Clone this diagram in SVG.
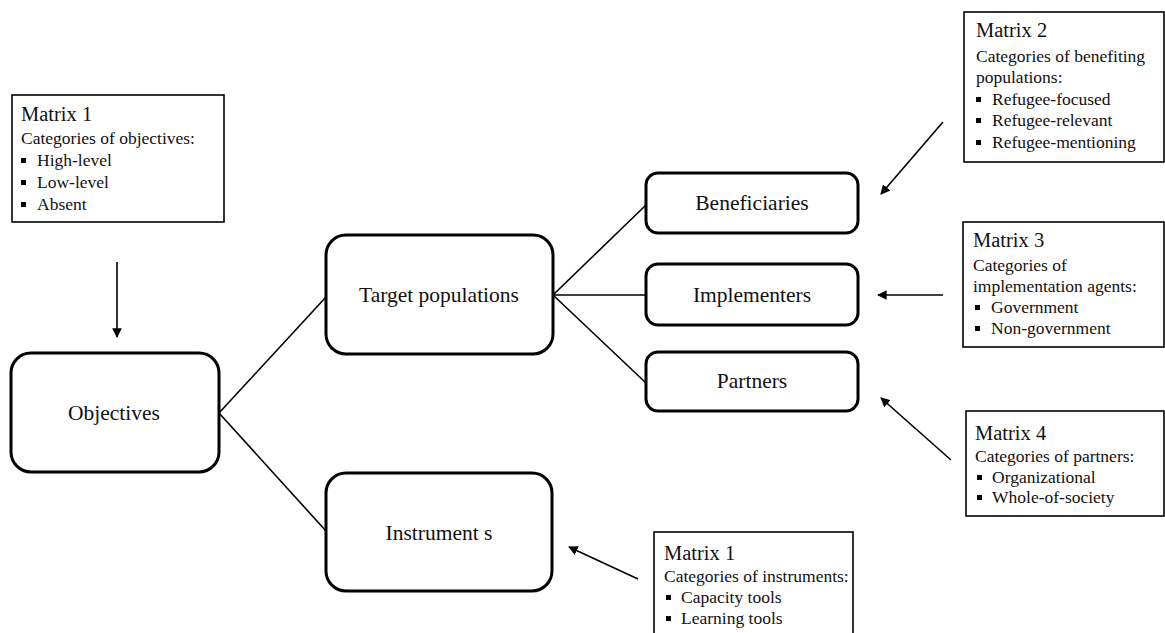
<svg xmlns="http://www.w3.org/2000/svg" width="1165" height="633" viewBox="0 0 1165 633">
<style>
.node{fill:#fff;stroke:#000;stroke-width:3}
.mbox{fill:#fff;stroke:#000;stroke-width:1.6}
.lbl{font-family:"Liberation Serif","Times New Roman",serif;font-size:21.5px;fill:#111;text-anchor:middle}
.ttl{font-family:"Liberation Serif","Times New Roman",serif;font-size:20.5px;fill:#111}
.txt{font-family:"Liberation Serif","Times New Roman",serif;font-size:17.5px;fill:#111}
.bul{fill:#000}
.con{stroke:#000;stroke-width:1.6;fill:none}
.arr{stroke:#000;stroke-width:1.6;fill:none;marker-end:url(#ah)}
</style>
<defs>
<marker id="ah" viewBox="0 0 10 10" refX="9" refY="5" markerWidth="6" markerHeight="6" orient="auto" markerUnits="strokeWidth">
<path d="M0,0 L10,5 L0,10 z" fill="#000"/>
</marker>
</defs>
<rect width="1165" height="633" fill="#fff"/>
<g id="connectors">
<line class="con" x1="219" y1="413" x2="326" y2="297"/>
<line class="con" x1="219" y1="413" x2="326" y2="531"/>
<line class="con" x1="553" y1="295" x2="646" y2="205"/>
<line class="con" x1="553" y1="295" x2="646" y2="295"/>
<line class="con" x1="553" y1="295" x2="646" y2="383"/>
<line class="arr" x1="117" y1="262" x2="117" y2="337"/>
<line class="arr" x1="943" y1="122" x2="881" y2="194"/>
<line class="arr" x1="943" y1="295" x2="878" y2="295"/>
<line class="arr" x1="951" y1="460" x2="881" y2="398"/>
<line class="arr" x1="638" y1="579" x2="569" y2="547"/>
</g>
<g id="objectives">
<rect class="node" x="11" y="353" width="208" height="119" rx="20"/>
<text class="lbl" x="114" y="420">Objectives</text>
</g>
<g id="target-populations">
<rect class="node" x="326" y="235" width="227" height="119" rx="20"/>
<text class="lbl" x="439" y="302">Target populations</text>
</g>
<g id="instruments">
<rect class="node" x="326" y="473" width="226" height="118" rx="20"/>
<text class="lbl" x="439" y="540">Instrument s</text>
</g>
<g id="beneficiaries">
<rect class="node" x="646" y="173" width="212" height="60" rx="12"/>
<text class="lbl" x="752" y="210">Beneficiaries</text>
</g>
<g id="implementers">
<rect class="node" x="646" y="264" width="212" height="61" rx="12"/>
<text class="lbl" x="752" y="302">Implementers</text>
</g>
<g id="partners">
<rect class="node" x="646" y="352" width="212" height="59" rx="12"/>
<text class="lbl" x="752" y="388">Partners</text>
</g>
<g id="matrix1-objectives">
<rect class="mbox" x="12" y="95" width="212" height="127"/>
<text class="ttl" x="21" y="121">Matrix 1</text>
<text class="txt" x="21" y="144">Categories of objectives:</text>
<rect class="bul" x="21" y="158" width="5" height="5"/>
<text class="txt" x="37" y="166">High-level</text>
<rect class="bul" x="21" y="180" width="5" height="5"/>
<text class="txt" x="37" y="188">Low-level</text>
<rect class="bul" x="21" y="202" width="5" height="5"/>
<text class="txt" x="37" y="210">Absent</text>
</g>
<g id="matrix2">
<rect class="mbox" x="964" y="12" width="200" height="150"/>
<text class="ttl" x="976" y="37">Matrix 2</text>
<text class="txt" x="976" y="62">Categories of benefiting</text>
<text class="txt" x="976" y="83">populations:</text>
<rect class="bul" x="976" y="97" width="5" height="5"/>
<text class="txt" x="992" y="105">Refugee-focused</text>
<rect class="bul" x="976" y="118" width="5" height="5"/>
<text class="txt" x="992" y="126">Refugee-relevant</text>
<rect class="bul" x="976" y="140" width="5" height="5"/>
<text class="txt" x="992" y="148">Refugee-mentioning</text>
</g>
<g id="matrix3">
<rect class="mbox" x="963" y="222" width="201" height="125"/>
<text class="ttl" x="973" y="247">Matrix 3</text>
<text class="txt" x="973" y="271">Categories of</text>
<text class="txt" x="973" y="292">implementation agents:</text>
<rect class="bul" x="975" y="305" width="5" height="5"/>
<text class="txt" x="991" y="313">Government</text>
<rect class="bul" x="975" y="326" width="5" height="5"/>
<text class="txt" x="991" y="334">Non-government</text>
</g>
<g id="matrix4">
<rect class="mbox" x="966" y="411" width="198" height="105"/>
<text class="ttl" x="975" y="440">Matrix 4</text>
<text class="txt" x="975" y="462">Categories of partners:</text>
<rect class="bul" x="977" y="475" width="5" height="5"/>
<text class="txt" x="992" y="483">Organizational</text>
<rect class="bul" x="977" y="495" width="5" height="5"/>
<text class="txt" x="992" y="503">Whole-of-society</text>
</g>
<g id="matrix1-instruments">
<rect class="mbox" x="654" y="532" width="199" height="120"/>
<text class="ttl" x="664" y="560">Matrix 1</text>
<text class="txt" x="664" y="582">Categories of instruments:</text>
<rect class="bul" x="666" y="595" width="5" height="5"/>
<text class="txt" x="681" y="603">Capacity tools</text>
<rect class="bul" x="666" y="616" width="5" height="5"/>
<text class="txt" x="681" y="624">Learning tools</text>
</g>
</svg>
